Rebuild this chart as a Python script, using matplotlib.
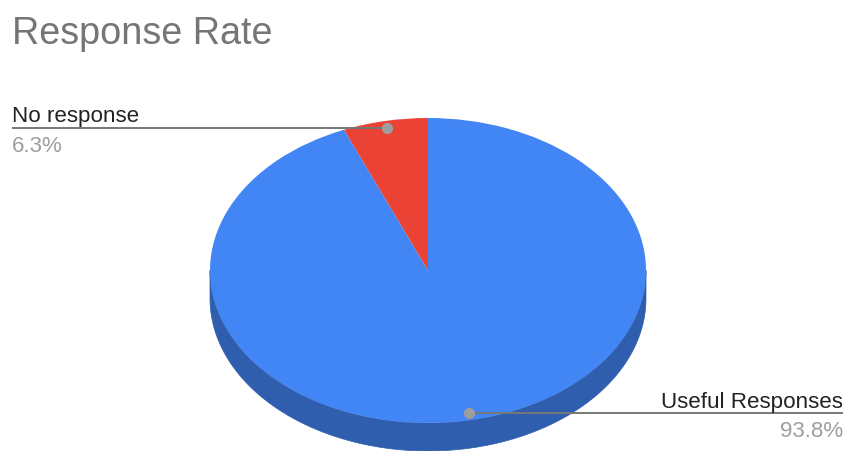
import numpy as np
import matplotlib
matplotlib.use("Agg")
import matplotlib.pyplot as plt
from matplotlib.patches import Polygon

plt.rcParams['font.family'] = ['Liberation Sans', 'DejaVu Sans']

# data
labels = ["Useful Responses", "No response"]
values = [93.8, 6.3]
colors = ["#4285F4", "#EA4335"]
side_colors = ["#2F5EAE", "#A8302A"]
title = "Response Rate"

# layout (pixels)
W, H = 845, 452
cx, cy = 428, 271.5     # centre of top face
rx, ry = 218, 152.5     # ellipse radii
depth = 28 / ry         # thickness in data units


def px(x, y):
    # pixel -> data coords (pie radius = 1)
    return (x - cx) / rx, (cy - y) / ry


fig = plt.figure(figsize=(W / 100, H / 100), dpi=100)
ax = fig.add_axes([0, 0, 1, 1])

wedges, _ = ax.pie(values, colors=colors, startangle=90, counterclock=False,
                   radius=1, wedgeprops=dict(linewidth=0, zorder=3))

# side of the 3d pie: front half of each wedge
for w, sc in zip(wedges, side_colors):
    for k in (-360, 0, 360):
        lo = max(w.theta1, 180 + k)
        hi = min(w.theta2, 360 + k)
        if hi <= lo:
            continue
        t = np.radians(np.linspace(lo, hi, 200))
        top = np.column_stack([np.cos(t), np.sin(t)])
        bot = np.column_stack([np.cos(t), np.sin(t) - depth])[::-1]
        ax.add_patch(Polygon(np.vstack([top, bot]), closed=True,
                             facecolor=sc, edgecolor=sc, lw=0.5, zorder=1))

ax.set_aspect('auto')
x0, y0 = px(0, H)
x1, y1 = px(W, 0)
ax.set_xlim(x0, x1)
ax.set_ylim(y0, y1)
ax.axis('off')

# leader lines + labels
for w, lab, v in zip(wedges, labels, values):
    mid = np.radians((w.theta1 + w.theta2) / 2)
    dx, dy = 0.955 * np.cos(mid), 0.955 * np.sin(mid)
    if dx < 0:
        ex = px(12, 0)[0]
        ha = 'left'
    else:
        ex = px(843, 0)[0]
        ha = 'right'
    ax.plot([dx, ex], [dy, dy], color="#777777", lw=1.4, zorder=5,
            solid_capstyle='butt')
    ax.plot([dx], [dy], 'o', ms=7, color="#9E9E9E", zorder=6)
    ax.text(ex, dy + 6.5 / ry, lab, ha=ha, va='baseline', fontsize=16.1,
            color="#222222", zorder=6)
    ax.text(ex, dy - 7 / ry, f"{v:.1f}%", ha=ha, va='top', fontsize=16.1,
            color="#9E9E9E", zorder=6)

fig.text(12 / W, 1 - 44 / H, title, ha='left', va='baseline',
         fontsize=27.2, color="#757575")

fig.savefig("out.png", dpi=100, facecolor="white")
